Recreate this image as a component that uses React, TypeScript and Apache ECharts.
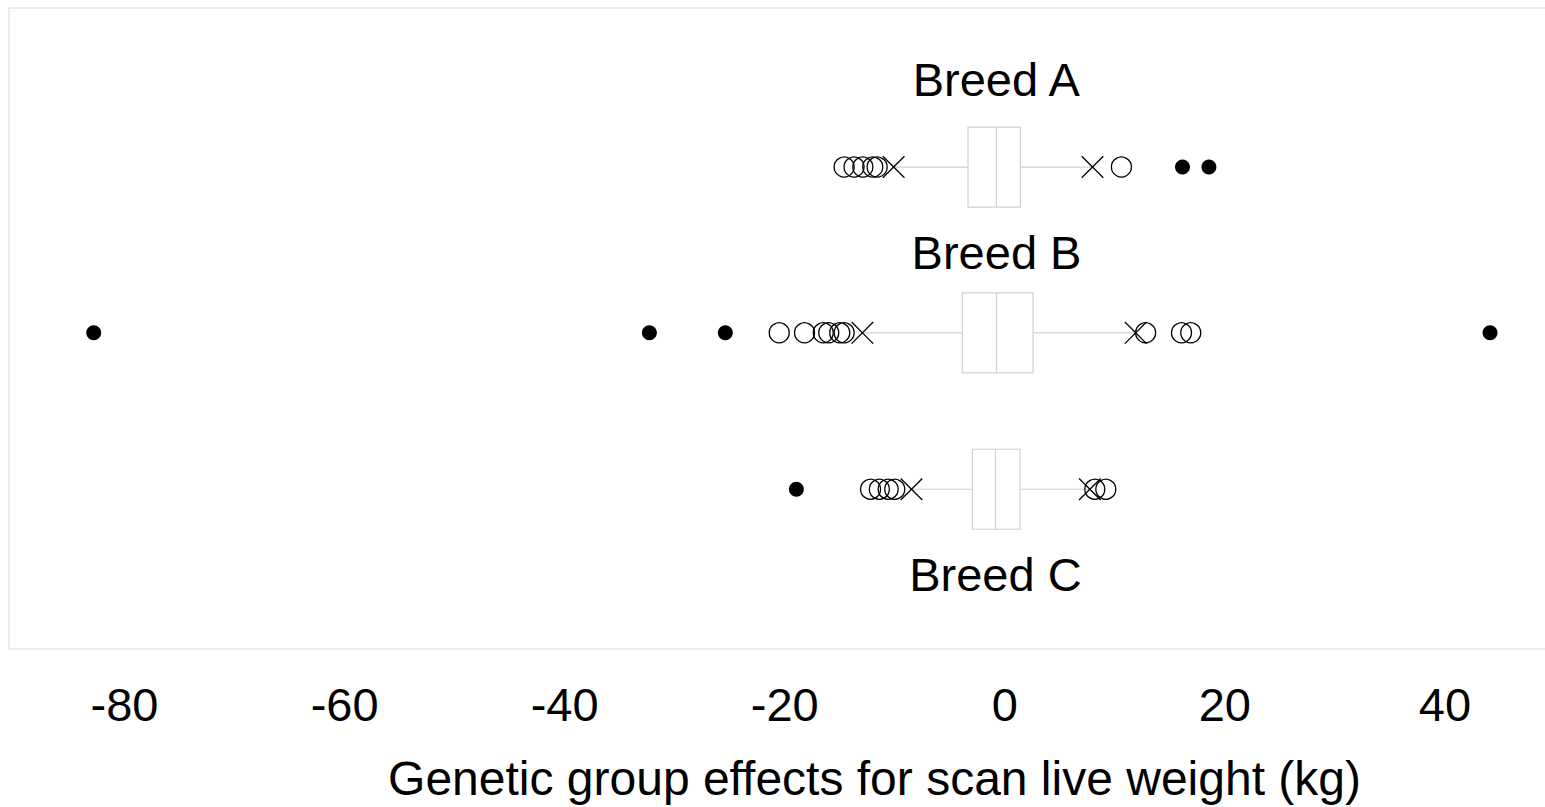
import React, { useEffect, useRef } from "react";
import * as echarts from "echarts";

// ---- data ----
const breeds = ["Breed A", "Breed B", "Breed C"];
// [whisker low (×), Q1, median, Q3, whisker high (×)]
const boxStats = [
  [-10.1, -3.34, -0.77, 1.41, 7.97],
  [-12.94, -3.86, -0.75, 2.57, 11.9],
  [-8.48, -2.94, -0.85, 1.39, 7.73],
];
// open circles (outliers)
const outliersA = [-14.6, -13.7, -12.9, -12.0, -11.6, 10.6];
const outliersB = [-20.5, -18.2, -16.5, -16.0, -15.0, -14.6, 12.8, 16.06, 16.9];
const outliersC = [-12.2, -11.4, -10.6, -10.0, 8.18, 9.18];
// filled dots (extreme values)
const extremesA = [16.15, 18.55];
const extremesB = [-82.8, -32.3, -25.4, 44.1];
const extremesC = [-18.94];
const tickValues = [-80, -60, -40, -20, 0, 20, 40];
const axisTitle = "Genetic group effects for scan live weight (kg)";

// ---- layout (not data) ----
const rowPos = [24.81, 50.67, 75.08]; // position of rows on hidden 0..100 axis
const labelDy = [-88, -80.5, 85.2]; // label offset from row centre (px)
const FONT = "Liberation Sans, Arial, sans-serif";
const FS = 47;

export default function App() {
  const ref = useRef<HTMLDivElement>(null);
  useEffect(() => {
    if (!ref.current) return;
    const chart = echarts.init(ref.current, null, { renderer: "svg" });
    const outliers = [outliersA, outliersB, outliersC];
    const extremes = [extremesA, extremesB, extremesC];
    const openPts: number[][] = [];
    outliers.forEach((arr, i) => arr.forEach((v) => openPts.push([v, rowPos[i]])));
    const dotPts: number[][] = [];
    extremes.forEach((arr, i) => arr.forEach((v) => dotPts.push([v, rowPos[i]])));

    const gray = "#cfcfcf";
    chart.setOption({
      animation: false,
      backgroundColor: "#ffffff",
      grid: {
        left: 9,
        top: 8,
        right: 10,
        bottom: 157,
        show: true,
        borderColor: "#d9d9d9",
        borderWidth: 1,
        backgroundColor: "#ffffff",
      },
      xAxis: {
        type: "value",
        min: -90.5,
        max: 49.55,
        axisLine: { show: false },
        axisTick: { show: false },
        splitLine: { show: false },
        axisLabel: {
          customValues: tickValues,
          fontSize: FS,
          fontFamily: FONT,
          color: "#000",
          margin: 32,
        },
        name: axisTitle,
        nameLocation: "middle",
        nameGap: 105,
        nameTextStyle: {
          fontSize: 48,
          fontFamily: FONT,
          color: "#000",
          padding: [0, 0, 0, 190],
        },
      },
      yAxis: {
        type: "value",
        min: 0,
        max: 100,
        inverse: true,
        show: false,
        splitLine: { show: false },
      },
      series: [
        {
          type: "custom",
          data: boxStats.map((s, i) => [rowPos[i], ...s]),
          encode: { x: [1, 2, 3, 4, 5], y: 0 },
          renderItem: (params: any, api: any) => {
            const row = api.value(0);
            const i = params.dataIndex;
            const lo = api.coord([api.value(1), row]);
            const q1 = api.coord([api.value(2), row]);
            const med = api.coord([api.value(3), row]);
            const q3 = api.coord([api.value(4), row]);
            const hi = api.coord([api.value(5), row]);
            const cy = lo[1];
            const h = 40;
            const c = 10.8;
            const cross = (x: number) => [
              {
                type: "line",
                shape: { x1: x - c, y1: cy - c, x2: x + c, y2: cy + c },
                style: { stroke: "#000", lineWidth: 1.3 },
              },
              {
                type: "line",
                shape: { x1: x - c, y1: cy + c, x2: x + c, y2: cy - c },
                style: { stroke: "#000", lineWidth: 1.3 },
              },
            ];
            return {
              type: "group",
              children: [
                {
                  type: "line",
                  shape: { x1: lo[0], y1: cy, x2: q1[0], y2: cy },
                  style: { stroke: gray, lineWidth: 1.2 },
                },
                {
                  type: "line",
                  shape: { x1: q3[0], y1: cy, x2: hi[0], y2: cy },
                  style: { stroke: gray, lineWidth: 1.2 },
                },
                {
                  type: "rect",
                  shape: { x: q1[0], y: cy - h, width: q3[0] - q1[0], height: 2 * h },
                  style: { fill: "#fff", stroke: gray, lineWidth: 1.2 },
                },
                {
                  type: "line",
                  shape: { x1: med[0], y1: cy - h, x2: med[0], y2: cy + h },
                  style: { stroke: gray, lineWidth: 1.2 },
                },
                ...cross(lo[0]),
                ...cross(hi[0]),
                {
                  type: "text",
                  style: {
                    text: breeds[i],
                    x: med[0],
                    y: cy + labelDy[i],
                    align: "center",
                    verticalAlign: "middle",
                    fontSize: FS,
                    fontFamily: FONT,
                    fill: "#000",
                  },
                },
              ],
            };
          },
        },
        {
          type: "scatter",
          data: openPts,
          symbol: "circle",
          symbolSize: 20,
          itemStyle: {
            color: "rgba(0,0,0,0)",
            borderColor: "#000",
            borderWidth: 1.3,
            opacity: 1,
          },
          z: 3,
        },
        {
          type: "scatter",
          data: dotPts,
          symbol: "circle",
          symbolSize: 15,
          itemStyle: { color: "#000", opacity: 1 },
          z: 4,
        },
      ],
    });
    return () => chart.dispose();
  }, []);
  return (
    <div
      ref={ref}
      style={{ position: "fixed", left: 0, top: 0, width: 1560, height: 807 }}
    />
  );
}
